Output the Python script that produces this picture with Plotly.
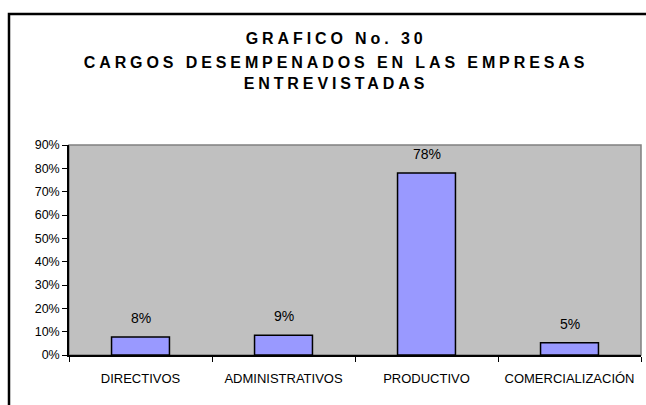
import plotly.graph_objs as go

categorias = ["DIRECTIVOS", "ADMINISTRATIVOS", "PRODUCTIVO", "COMERCIALIZACIÓN"]
valores = [0.077, 0.085, 0.78, 0.052]
etiquetas = ["8%", "9%", "78%", "5%"]
titulo = ["GRAFICO No. 30", "CARGOS DESEMPENADOS EN LAS EMPRESAS", "ENTREVISTADAS"]

fuente = "Liberation Sans, Arial, sans-serif"

fig = go.Figure()
fig.add_trace(go.Bar(
    x=categorias, y=valores,
    marker=dict(color="#9999FF", line=dict(color="black", width=1.5)),
    hoverinfo="skip",
))

anotaciones = []
for c, v, t in zip(categorias, valores, etiquetas):
    anotaciones.append(dict(x=c, y=v, text=t, showarrow=False, yanchor="middle",
                            yshift=19, font=dict(family=fuente, size=14, color="black")))

# titulo en tres lineas
ys = [1.5095, 1.3952, 1.2952]
for t, yy in zip(titulo, ys):
    anotaciones.append(dict(xref="paper", yref="paper", x=0.466, y=yy, text="<b>" + t + "</b>",
                            showarrow=False, xanchor="center", yanchor="middle",
                            font=dict(family=fuente, size=16, color="black")))

fig.update_layout(
    width=646, height=405,
    margin=dict(l=69, r=5, t=145, b=50),
    paper_bgcolor="white", plot_bgcolor="#C0C0C0",
    showlegend=False,
    bargap=0.595,
    annotations=anotaciones,
    font=dict(family=fuente, color="black"),
    shapes=[
        dict(type="rect", xref="paper", yref="paper", x0=0, x1=1, y0=0, y1=1,
             line=dict(color="#808080", width=1.5), layer="below"),
        dict(type="rect", xref="paper", yref="paper", x0=-0.1049, x1=1.2, y0=-0.6, y1=1.6238,
             line=dict(color="black", width=2.5)),
    ],
)
fig.update_xaxes(showline=True, linecolor="black", linewidth=1.5, ticks="outside",
                 tickson="boundaries", ticklen=5, tickcolor="black", showgrid=False,
                 ticklabelstandoff=11, tickfont=dict(family=fuente, size=13, color="black"))
fig.update_yaxes(range=[0, 0.9], dtick=0.1, tickformat=".0%", showline=True, linecolor="black",
                 linewidth=1.5, ticks="outside", ticklen=5, tickcolor="black", showgrid=False,
                 zeroline=False, tickfont=dict(family=fuente, size=12.5, color="black"))

script = """
document.body.style.margin = '0';
var titulos = %s;
var gd = document.getElementById('{plot_id}');
gd.querySelectorAll('text').forEach(function(t){
  if (titulos.indexOf(t.textContent) >= 0) { t.setAttribute('letter-spacing', '3.9px'); }
});
""" % str(titulo).replace("'", '"')

fig.write_html("out.html", post_script=script, config={"displayModeBar": False})
